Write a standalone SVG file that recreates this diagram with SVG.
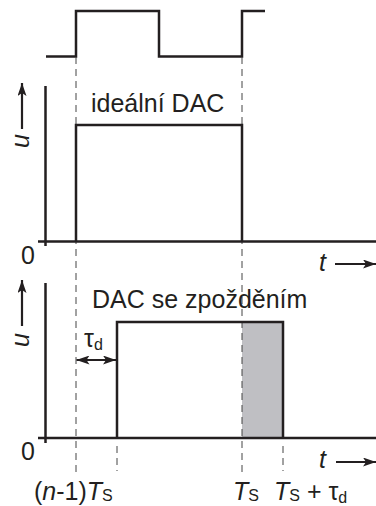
<svg xmlns="http://www.w3.org/2000/svg" width="376" height="506" viewBox="0 0 376 506">
<style>
.ln{fill:none;stroke:#231f20;stroke-width:2.5;stroke-linecap:butt}
.ds{fill:none;stroke:#444;stroke-width:1;stroke-dasharray:7 5}
.ar{fill:none;stroke:#231f20;stroke-width:2.2}
.tx{font-family:"Liberation Sans",Arial,sans-serif;fill:#231f20}
.it{font-style:italic}
</style>
<defs>
<marker id="ah" viewBox="0 0 13 9" refX="13" refY="4.5" markerWidth="13" markerHeight="9" markerUnits="userSpaceOnUse" orient="auto-start-reverse">
<path d="M0,0 L13,4.5 L0,9 L3,4.5 Z" fill="#231f20"/>
</marker>
</defs>
<rect width="376" height="506" fill="#fff"/>
<g id="clock"><path class="ln" d="M46,56.5 H76 V11 H159 V56.5 H242 V11 H265"/></g>
<g id="shade"><rect x="242" y="322" width="41" height="116" fill="#bfbfc3"/></g>
<g id="connectors">
<path class="ds" d="M76,57 V472 M242,57 V472 M117,446 V471 M283,446 V471"/>
<line class="ar" x1="22" y1="129" x2="22" y2="83" marker-end="url(#ah)"/>
<line class="ar" x1="22" y1="326" x2="22" y2="280" marker-end="url(#ah)"/>
<line class="ar" x1="335" y1="264" x2="376" y2="264" marker-end="url(#ah)"/>
<line class="ar" x1="336" y1="462" x2="376" y2="462" marker-end="url(#ah)"/>
<line class="ar" x1="76.5" y1="360" x2="116" y2="360" marker-start="url(#ah)" marker-end="url(#ah)"/>
</g>
<g id="panel1">
<path class="ln" d="M45.5,86 V246 M38,241.5 H376"/>
<path class="ln" d="M76,241.5 V125 H242 V241.5"/>
<text class="tx" x="91" y="112" font-size="25">ideální DAC</text>
<text class="tx" x="21" y="264" font-size="25">0</text>
<text class="tx it" x="319" y="271" font-size="25">t</text>
<text class="tx it" font-size="25" transform="translate(29,148) rotate(-90)">u</text>
</g>
<g id="panel2">
<path class="ln" d="M45.5,283 V443 M38,438 H376"/>
<path class="ln" d="M117,438 V322 H283 V438"/>
<text class="tx" x="92" y="308" font-size="25">DAC se zpožděním</text>
<text class="tx" x="21" y="460" font-size="25">0</text>
<text class="tx it" x="319" y="468" font-size="25">t</text>
<text class="tx it" font-size="25" transform="translate(29,347) rotate(-90)">u</text>
<text class="tx" x="84" y="347" font-size="25">τ<tspan font-size="16" dy="3">d</tspan></text>
</g>
<g id="labels">
<text class="tx" x="34" y="500" font-size="25">(<tspan class="it">n</tspan>-1)<tspan class="it">T</tspan><tspan font-size="16" dy="1">S</tspan></text>
<text class="tx" x="233" y="500" font-size="25"><tspan class="it">T</tspan><tspan font-size="16" dy="1">S</tspan></text>
<text class="tx" x="274" y="500" font-size="25"><tspan class="it">T</tspan><tspan font-size="16" dy="1">S</tspan><tspan dy="-1"> + τ</tspan><tspan font-size="16" dy="3">d</tspan></text>
</g>
</svg>
